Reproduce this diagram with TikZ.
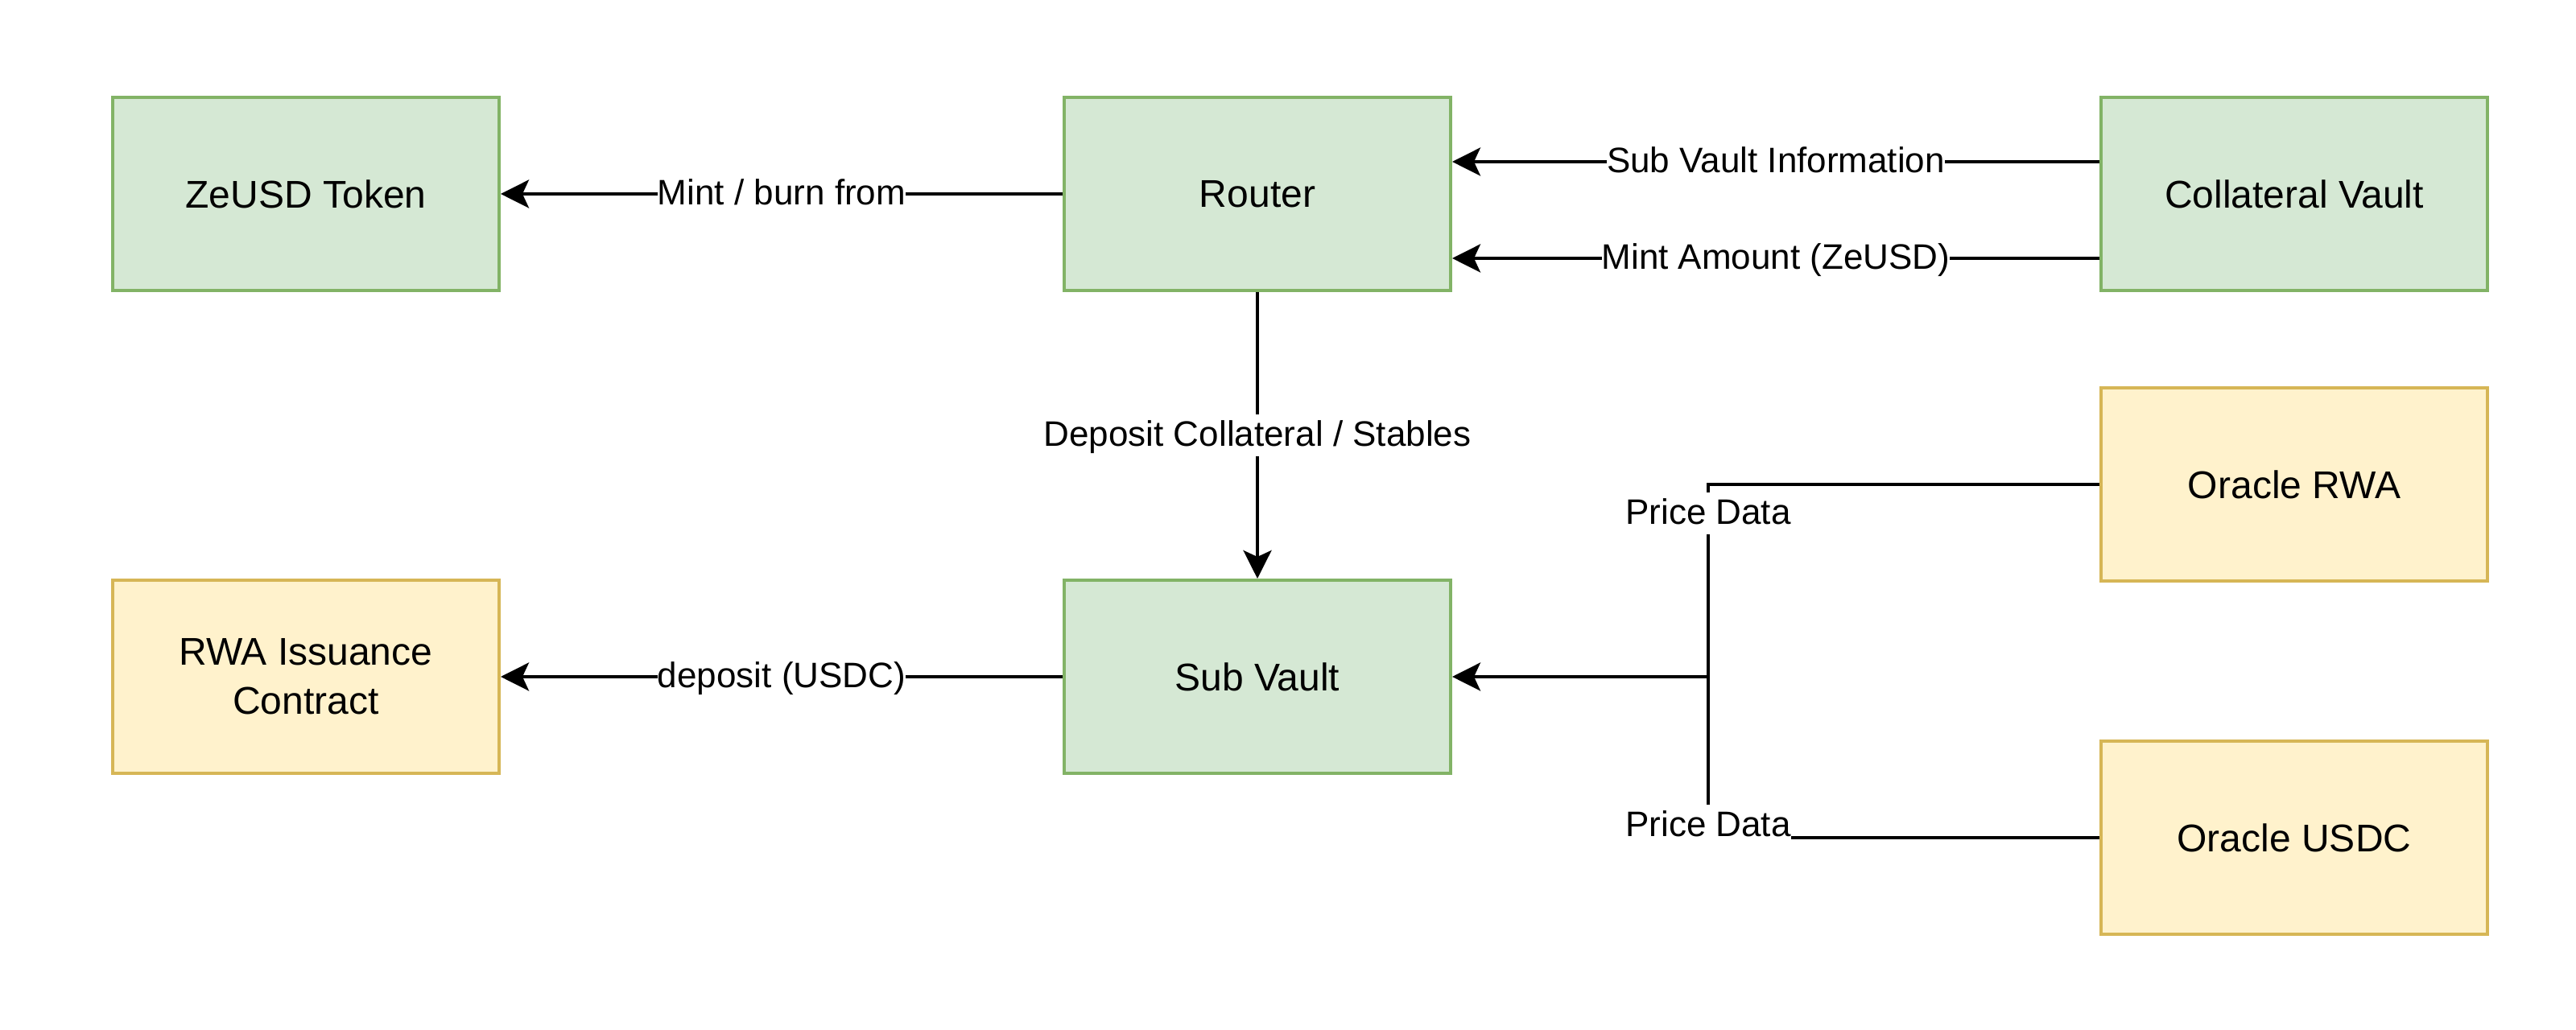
\documentclass[tikz,border=0pt]{standalone}
\usepackage{fontspec}
\setmainfont{Liberation Sans}
\usetikzlibrary{arrows.meta}
\definecolor{gfill}{HTML}{D5E8D4}
\definecolor{gline}{HTML}{82B366}
\definecolor{yfill}{HTML}{FFF2CC}
\definecolor{yline}{HTML}{D6B656}
\tikzset{
  boxbase/.style={rectangle, minimum width=4.8cm, minimum height=2.4cm, inner sep=0pt,
    line width=0.04cm, align=center, font=\fontsize{13.66pt}{17.3pt}\selectfont},
  gbox/.style={boxbase, draw=gline, fill=gfill},
  ybox/.style={boxbase, draw=yline, fill=yfill},
  conn/.style={line width=0.04cm, draw=black},
  arr/.style={conn, -{Stealth[length=0.35cm, width=0.35cm, inset=0.08cm]}},
  lbl/.style={fill=white, inner xsep=0pt, inner ysep=0.02cm, text height=0.38cm, text depth=0.10cm,
    font=\fontsize{12.52pt}{15pt}\selectfont}
}
\begin{document}
\begin{tikzpicture}
\useasboundingbox (0,0) rectangle (32,-12.8);
\node[gbox] (zeusd) at (3.80,-2.41) {ZeUSD Token};
\node[gbox] (router) at (15.62,-2.41) {Router};
\node[gbox] (coll) at (28.50,-2.41) {Collateral Vault};
\node[ybox] (orwa) at (28.50,-6.02) {Oracle RWA};
\node[gbox] (subv) at (15.62,-8.41) {Sub Vault};
\node[ybox] (rwa) at (3.80,-8.41) {RWA Issuance\\Contract};
\node[ybox] (ousdc) at (28.50,-10.41) {Oracle USDC};

\draw[arr] (router.west) -- node[lbl] (l1) {Mint / burn from} (zeusd.east);
\draw[arr] (router.south) -- node[lbl] (l2) {Deposit Collateral / Stables} (subv.north);
\draw[arr] (subv.west) -- node[lbl] (l3) {deposit (USDC)} (rwa.east);
\draw[arr] ([yshift=0.4cm]coll.west) -- node[lbl] (l4) {Sub Vault Information} ([yshift=0.4cm]router.east);
\draw[arr] ([yshift=-0.8cm]coll.west) -- node[lbl] (l5) {Mint Amount (ZeUSD)} ([yshift=-0.8cm]router.east);

\coordinate (jx) at (21.22,-8.41);
\draw[conn] (orwa.west) -| (jx);
\draw[conn] (ousdc.west) -| (jx);
\draw[arr] (jx) -- (subv.east);
\node[lbl] (l6) at (21.22,-6.38) {Price Data};
\node[lbl] (l7) at (21.22,-10.26) {Price Data};
\end{tikzpicture}
\end{document}
